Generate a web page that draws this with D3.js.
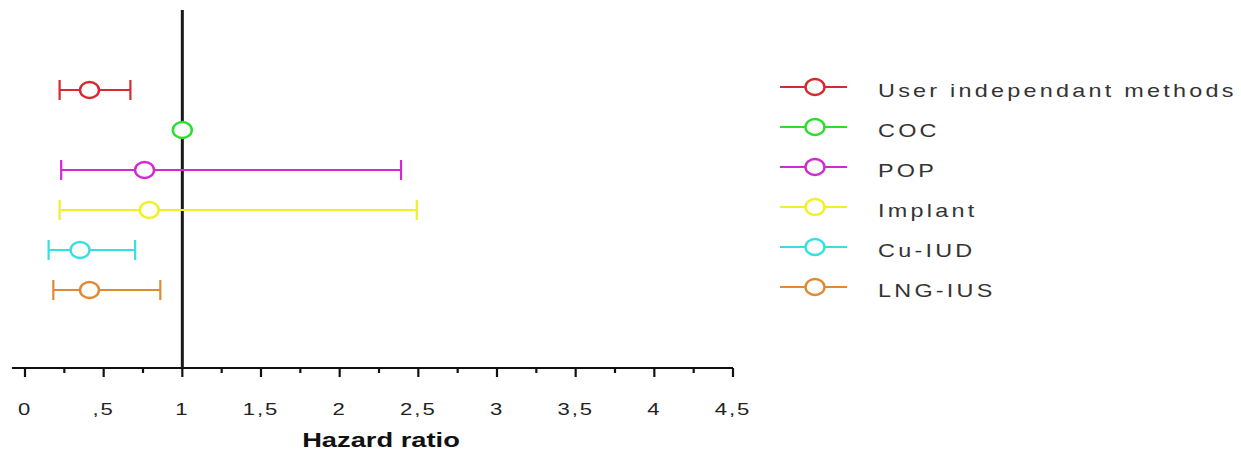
<!DOCTYPE html>
<html>
<head>
<meta charset="utf-8">
<script src="https://cdn.jsdelivr.net/npm/d3@7"></script>
<style>
body { margin: 0; background: #fff; }
text { font-family: "Liberation Sans", Arial, sans-serif; }
</style>
</head>
<body>
<script>
// DATA
var methods = ["User independant methods", "COC", "POP", "Implant", "Cu-IUD", "LNG-IUS"];
var hr_point = [0.41, 1.0, 0.76, 0.79, 0.35, 0.41];
var hr_lower = [0.22, 1.0, 0.23, 0.22, 0.15, 0.18];
var hr_upper = [0.67, 1.0, 2.39, 2.49, 0.70, 0.86];
var colours = ["#d62a2e", "#2adf2a", "#d22ad2", "#f0f024", "#36e0e0", "#e08a34"];
var major_ticks = [0, 0.5, 1, 1.5, 2, 2.5, 3, 3.5, 4, 4.5];
var minor_ticks = [0.25, 0.75, 1.25, 1.75, 2.25, 2.75, 3.25, 3.75, 4.25];
var reference_value = 1;

var width = 1241, height = 452;
var sx = 1.3; // the picture is stretched sideways

var svg = d3.select("body").append("svg")
	.attr("width", width)
	.attr("height", height);

var x = d3.scaleLinear().domain([0, 4.5]).range([25, 733]);
var y = d3.scalePoint().domain(methods).range([90, 290]);
var axis_y = 368;

// axis line (starts a little left of zero)
svg.append("line")
	.attr("x1", x(-0.083)).attr("x2", x(4.5))
	.attr("y1", axis_y).attr("y2", axis_y)
	.attr("stroke", "#111").attr("stroke-width", 2.2);

var fmt = function(d){
	if (d === 0) return "0";
	return String(d).replace(/^0\./, ".").replace(".", ",");
};

var gx = svg.append("g").attr("transform", "translate(0," + axis_y + ")");
gx.call(d3.axisBottom(x).tickValues(major_ticks).tickSize(9).tickFormat(fmt));
gx.select(".domain").remove();
gx.selectAll(".tick line").attr("stroke", "#111").attr("stroke-width", 2.2);
gx.selectAll(".tick text")
	.attr("y", 47).attr("dy", 0)
	.attr("font-size", 17).attr("fill", "#222")
	.attr("letter-spacing", 1.5)
	.attr("font-family", "Liberation Sans, Arial, sans-serif")
	.attr("transform", function(){ return "scale(" + sx + ",1)"; });
gx.selectAll(".tick").each(function(d){
	d3.select(this).attr("transform", "translate(" + x(d) + ",0)");
});

gx.selectAll(".minor")
	.data(minor_ticks)
	.enter()
	.append("line")
	.attr("class", "minor")
	.attr("x1", function(d){ return x(d); })
	.attr("x2", function(d){ return x(d); })
	.attr("y1", 0).attr("y2", 5)
	.attr("stroke", "#111").attr("stroke-width", 2.2);

// axis title
svg.append("text")
	.attr("transform", "translate(381,447) scale(" + sx + ",1)")
	.attr("text-anchor", "middle")
	.attr("font-size", 21)
	.attr("font-weight", "bold")
	.attr("fill", "#111")
	.text("Hazard ratio");

// reference line at HR = 1
svg.append("line")
	.attr("x1", x(reference_value)).attr("x2", x(reference_value))
	.attr("y1", 10).attr("y2", axis_y)
	.attr("stroke", "#1a1a1a").attr("stroke-width", 3);

// confidence intervals
var rows = svg.selectAll(".row")
	.data(methods)
	.enter()
	.append("g")
	.attr("class", "row");

rows.append("line")
	.attr("x1", function(d, i){ return x(hr_lower[i]); })
	.attr("x2", function(d, i){ return x(hr_upper[i]); })
	.attr("y1", function(d){ return y(d); })
	.attr("y2", function(d){ return y(d); })
	.attr("stroke", function(d, i){ return colours[i]; })
	.attr("stroke-width", 2.2);

[hr_lower, hr_upper].forEach(function(arr){
	rows.filter(function(d, i){ return hr_lower[i] !== hr_upper[i]; })
		.append("line")
		.attr("x1", function(d){ return x(arr[methods.indexOf(d)]); })
		.attr("x2", function(d){ return x(arr[methods.indexOf(d)]); })
		.attr("y1", function(d){ return y(d) - 10; })
		.attr("y2", function(d){ return y(d) + 10; })
		.attr("stroke", function(d){ return colours[methods.indexOf(d)]; })
		.attr("stroke-width", 2.2);
});

rows.append("ellipse")
	.attr("cx", function(d, i){ return x(hr_point[i]); })
	.attr("cy", function(d){ return y(d); })
	.attr("rx", 9.5).attr("ry", 8)
	.attr("fill", "#fff")
	.attr("stroke", function(d, i){ return colours[i]; })
	.attr("stroke-width", 2.5);

// LEGEND
var legend = svg.selectAll(".legend")
	.data(methods)
	.enter()
	.append("g")
	.attr("class", "legend")
	.attr("transform", function(d, i){ return "translate(780," + (87 + i * 40) + ")"; });

legend.append("line")
	.attr("x1", 0).attr("x2", 67)
	.attr("y1", 0).attr("y2", 0)
	.attr("stroke", function(d, i){ return colours[i]; })
	.attr("stroke-width", 2.2);

legend.append("ellipse")
	.attr("cx", 35).attr("cy", 0)
	.attr("rx", 9.5).attr("ry", 8)
	.attr("fill", "#fff")
	.attr("stroke", function(d, i){ return colours[i]; })
	.attr("stroke-width", 2.5);

legend.append("text")
	.attr("transform", "translate(98,10) scale(" + sx + ",1)")
	.attr("font-size", 18)
	.attr("fill", "#333")
	.attr("letter-spacing", 2.5)
	.text(function(d){ return d; });
</script>
</body>
</html>
